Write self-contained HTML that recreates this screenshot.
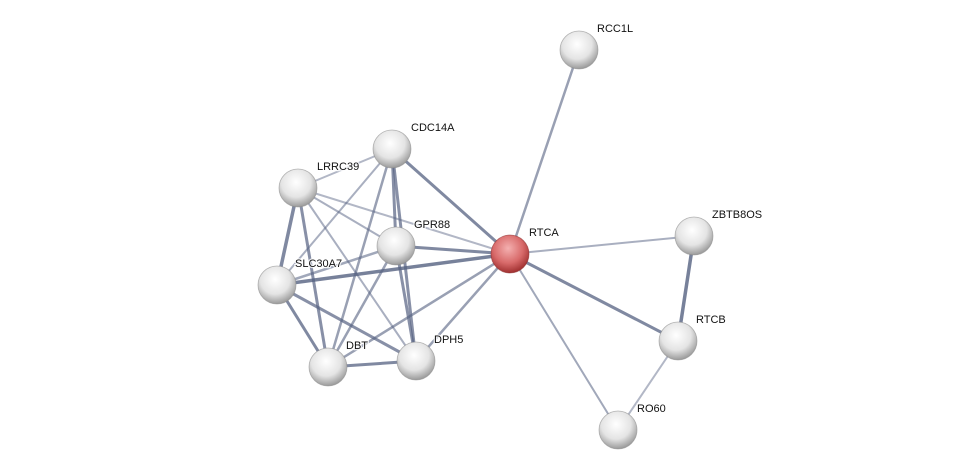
<!DOCTYPE html>
<html><head><meta charset="utf-8"><style>
html,body{margin:0;padding:0;background:#fff;width:975px;height:475px;overflow:hidden}
text{font-family:"Liberation Sans",sans-serif;font-size:11px;fill:#111;paint-order:stroke;stroke:#fff;stroke-width:2.5px;stroke-opacity:0.8}
</style></head><body>
<svg width="975" height="475" viewBox="0 0 975 475">
<defs>
<radialGradient id="g" cx="0.45" cy="0.35" r="0.65">
<stop offset="0" stop-color="#ffffff"/><stop offset="0.6" stop-color="#e4e4e4"/><stop offset="1" stop-color="#9a9a9a"/>
</radialGradient>
<radialGradient id="r" cx="0.45" cy="0.35" r="0.65">
<stop offset="0" stop-color="#f4b0b0"/><stop offset="0.6" stop-color="#d86a6a"/><stop offset="1" stop-color="#a03030"/>
</radialGradient>
</defs>
<g stroke="#566282" stroke-linecap="round">
<line x1="510" y1="254" x2="579" y2="50" stroke-width="2.5" opacity="0.6"/>
<line x1="510" y1="254" x2="694" y2="236" stroke-width="2" opacity="0.5"/>
<line x1="510" y1="254" x2="678" y2="341" stroke-width="3" opacity="0.75"/>
<line x1="510" y1="254" x2="618" y2="430" stroke-width="2" opacity="0.55"/>
<line x1="694" y1="236" x2="678" y2="341" stroke-width="3.5" opacity="0.8"/>
<line x1="678" y1="341" x2="618" y2="430" stroke-width="2" opacity="0.45"/>
<line x1="510" y1="254" x2="392" y2="149" stroke-width="3" opacity="0.75"/>
<line x1="510" y1="254" x2="298" y2="188" stroke-width="2" opacity="0.45"/>
<line x1="510" y1="254" x2="396" y2="246" stroke-width="3" opacity="0.75"/>
<line x1="510" y1="254" x2="277" y2="285" stroke-width="3.5" opacity="0.8"/>
<line x1="510" y1="254" x2="416" y2="361" stroke-width="2.5" opacity="0.6"/>
<line x1="510" y1="254" x2="328" y2="367" stroke-width="2.5" opacity="0.6"/>
<line x1="392" y1="149" x2="298" y2="188" stroke-width="2" opacity="0.45"/>
<line x1="392" y1="149" x2="396" y2="246" stroke-width="3" opacity="0.7"/>
<line x1="392" y1="149" x2="277" y2="285" stroke-width="2" opacity="0.5"/>
<line x1="392" y1="149" x2="328" y2="367" stroke-width="2.5" opacity="0.6"/>
<line x1="392" y1="149" x2="416" y2="361" stroke-width="3" opacity="0.7"/>
<line x1="298" y1="188" x2="396" y2="246" stroke-width="2" opacity="0.5"/>
<line x1="298" y1="188" x2="277" y2="285" stroke-width="3.5" opacity="0.75"/>
<line x1="298" y1="188" x2="328" y2="367" stroke-width="3" opacity="0.7"/>
<line x1="298" y1="188" x2="416" y2="361" stroke-width="2" opacity="0.5"/>
<line x1="396" y1="246" x2="277" y2="285" stroke-width="2.5" opacity="0.55"/>
<line x1="396" y1="246" x2="328" y2="367" stroke-width="2.5" opacity="0.6"/>
<line x1="396" y1="246" x2="416" y2="361" stroke-width="3" opacity="0.7"/>
<line x1="277" y1="285" x2="328" y2="367" stroke-width="3" opacity="0.75"/>
<line x1="277" y1="285" x2="416" y2="361" stroke-width="3" opacity="0.7"/>
<line x1="328" y1="367" x2="416" y2="361" stroke-width="3" opacity="0.75"/>
</g>
<g stroke="#888" stroke-width="0.8" stroke-opacity="0.6">
<circle cx="579" cy="50" r="19" fill="url(#g)"/>
<circle cx="392" cy="149" r="19" fill="url(#g)"/>
<circle cx="298" cy="188" r="19" fill="url(#g)"/>
<circle cx="396" cy="246" r="19" fill="url(#g)"/>
<circle cx="510" cy="254" r="19" fill="url(#r)" stroke="#8a2a2a"/>
<circle cx="694" cy="236" r="19" fill="url(#g)"/>
<circle cx="277" cy="285" r="19" fill="url(#g)"/>
<circle cx="678" cy="341" r="19" fill="url(#g)"/>
<circle cx="328" cy="367" r="19" fill="url(#g)"/>
<circle cx="416" cy="361" r="19" fill="url(#g)"/>
<circle cx="618" cy="430" r="19" fill="url(#g)"/>
</g>
<text x="597" y="32">RCC1L</text>
<text x="411" y="131">CDC14A</text>
<text x="317" y="170">LRRC39</text>
<text x="414" y="228">GPR88</text>
<text x="529" y="236">RTCA</text>
<text x="712" y="218">ZBTB8OS</text>
<text x="295" y="267">SLC30A7</text>
<text x="696" y="323">RTCB</text>
<text x="346" y="349">DBT</text>
<text x="434" y="343">DPH5</text>
<text x="637" y="412">RO60</text>
</svg>
</body></html>
